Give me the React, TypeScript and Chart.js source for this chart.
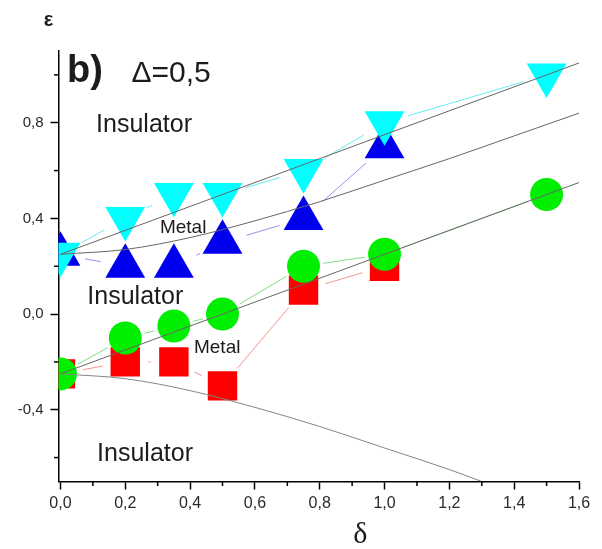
import React, { useEffect, useRef } from 'react';
import { Chart, registerables } from 'chart.js';

Chart.register(...registerables);

// ---- data ----
const cyanDelta = [0, 0.2, 0.35, 0.5, 0.75, 1.0, 1.5];
const cyanEps = [0.25, 0.4, 0.5, 0.5, 0.6, 0.8, 1.0];

const blueDelta = [0, 0.2, 0.35, 0.5, 0.75, 1.0];
const blueEps = [0.25, 0.2, 0.2, 0.3, 0.4, 0.7];

const greenDelta = [0, 0.2, 0.35, 0.5, 0.75, 1.0, 1.5];
const greenEps = [-0.25, -0.1, -0.05, 0.0, 0.2, 0.25, 0.5];

const redDelta = [0, 0.2, 0.35, 0.5, 0.75, 1.0];
const redEps = [-0.25, -0.2, -0.2, -0.3, 0.1, 0.2];

// phase boundaries
const upperLineDelta = [0, 1.6];
const upperLineEps = [0.25, 1.05];

const middleCurveDelta = [0, 0.2, 0.4, 0.6, 0.8, 1.0, 1.2, 1.4, 1.6];
const middleCurveEps = [0.25, 0.27, 0.32, 0.39, 0.47, 0.56, 0.65, 0.745, 0.84];

const lowerLineDelta = [0, 1.6];
const lowerLineEps = [-0.25, 0.55];

const lowerCurveDelta = [0, 0.2, 0.4, 0.6, 0.8, 1.0, 1.2, 1.3];
const lowerCurveEps = [-0.25, -0.27, -0.32, -0.39, -0.47, -0.56, -0.65, -0.7];

// ticks
const xMajorTicks = [0, 0.2, 0.4, 0.6, 0.8, 1.0, 1.2, 1.4, 1.6];
const xMinorTicks = [0.1, 0.3, 0.5, 0.7, 0.9, 1.1, 1.3, 1.5];
const yMajorTicks = [-0.4, 0.0, 0.4, 0.8];
const yMinorTicks = [-0.6, -0.2, 0.2, 0.6, 1.0];

// region annotations (text + anchor in data coordinates)
const regionTexts = ['Insulator', 'Metal', 'Insulator', 'Metal', 'Insulator'];
const regionDelta = [0.110, 0.307, 0.083, 0.412, 0.113];
const regionEps = [0.762, 0.339, 0.044, -0.163, -0.615];
const regionSizes = [25, 19, 25, 19, 25];

const SANS = '"Liberation Sans", Arial, Helvetica, sans-serif';
const SERIF = '"Liberation Serif", "Times New Roman", serif';

const zip = (xs: number[], ys: number[]) => xs.map((x, i) => ({ x, y: ys[i] }));
const fmt = (v: number) => v.toFixed(1).replace('.', ',');

const connectPlugin = {
  id: 'connectGaps',
  beforeDatasetsDraw(chart: any) {
    const ctx = chart.ctx;
    const a = chart.chartArea;
    ctx.save();
    ctx.beginPath();
    ctx.rect(a.left, a.top, a.right - a.left, a.bottom - a.top);
    ctx.clip();
    chart.data.datasets.forEach((ds: any, i: number) => {
      if (!ds.connectColor) return;
      const pts = chart.getDatasetMeta(i).data;
      ctx.strokeStyle = ds.connectColor;
      ctx.lineWidth = 1;
      for (let k = 0; k < pts.length - 1; k++) {
        const p = pts[k];
        const q = pts[k + 1];
        const dx = q.x - p.x;
        const dy = q.y - p.y;
        const L = Math.hypot(dx, dy);
        const g = ds.connectGap;
        if (L <= 2 * g) continue;
        const ux = dx / L;
        const uy = dy / L;
        ctx.beginPath();
        ctx.moveTo(p.x + ux * g, p.y + uy * g);
        ctx.lineTo(q.x - ux * g, q.y - uy * g);
        ctx.stroke();
      }
    });
    ctx.restore();
  },
};

const decorPlugin = {
  id: 'decor',
  afterDraw(chart: any) {
    const ctx = chart.ctx;
    const xs = chart.scales.x;
    const ys = chart.scales.y;
    const a = chart.chartArea;
    ctx.save();
    // minor ticks
    ctx.strokeStyle = '#000';
    ctx.lineWidth = 1.5;
    xMinorTicks.forEach((v) => {
      const px = xs.getPixelForValue(v);
      ctx.beginPath();
      ctx.moveTo(px, a.bottom);
      ctx.lineTo(px, a.bottom + 4.5);
      ctx.stroke();
    });
    yMinorTicks.forEach((v) => {
      const py = ys.getPixelForValue(v);
      ctx.beginPath();
      ctx.moveTo(a.left, py);
      ctx.lineTo(a.left - 4.5, py);
      ctx.stroke();
    });
    // region labels
    ctx.fillStyle = '#1c1c1c';
    ctx.textAlign = 'left';
    ctx.textBaseline = 'alphabetic';
    regionTexts.forEach((t, i) => {
      ctx.font = `${regionSizes[i]}px ${SANS}`;
      ctx.fillText(t, xs.getPixelForValue(regionDelta[i]), ys.getPixelForValue(regionEps[i]));
    });
    // panel label
    ctx.font = `bold 38px ${SANS}`;
    ctx.fillText('b)', xs.getPixelForValue(0.02), ys.getPixelForValue(0.971));
    ctx.font = `30px ${SANS}`;
    ctx.fillText('\u0394=0,5', xs.getPixelForValue(0.219), ys.getPixelForValue(0.971));
    // axis titles
    ctx.textAlign = 'center';
    ctx.font = `bold 20px ${SANS}`;
    ctx.fillText('\u03b5', a.left - 10, a.top - 25);
    ctx.font = `30px ${SERIF}`;
    ctx.fillText('\u03b4', xs.getPixelForValue(0.925), a.bottom + 61);
    ctx.restore();
  },
};

export default function App() {
  const ref = useRef<HTMLCanvasElement | null>(null);

  useEffect(() => {
    document.body.style.margin = '0';
    document.body.style.overflow = 'hidden';
    const canvas = ref.current;
    if (!canvas) return;

    const markerBase = { showLine: false, pointBorderWidth: 0, borderWidth: 0 };
    const boundary = {
      showLine: true,
      pointRadius: 0,
      borderColor: '#666666',
      borderWidth: 1,
      backgroundColor: 'transparent',
      fill: false,
      order: 0,
    };

    const chart = new Chart(canvas, {
      type: 'scatter',
      data: {
        datasets: [
          { ...boundary, label: 'upper', data: zip(upperLineDelta, upperLineEps) },
          {
            ...boundary,
            label: 'middle',
            data: zip(middleCurveDelta, middleCurveEps),
            cubicInterpolationMode: 'monotone',
          },
          { ...boundary, label: 'lowerLine', data: zip(lowerLineDelta, lowerLineEps) },
          {
            ...boundary,
            label: 'lowerCurve',
            data: zip(lowerCurveDelta, lowerCurveEps),
            cubicInterpolationMode: 'monotone',
            borderColor: '#858585',
          },
          {
            ...markerBase,
            label: 'cyan',
            data: zip(cyanDelta, cyanEps),
            pointStyle: 'triangle',
            rotation: 180,
            pointRotation: 180,
            pointRadius: 23,
            pointBackgroundColor: '#00ffff',
            backgroundColor: '#00ffff',
            borderColor: '#00ffff',
            order: 1,
            connectColor: 'rgba(0,225,235,0.6)',
            connectGap: 24,
          },
          {
            ...markerBase,
            label: 'blue',
            data: zip(blueDelta, blueEps),
            pointStyle: 'triangle',
            pointRadius: 23,
            pointBackgroundColor: '#0000ee',
            backgroundColor: '#0000ee',
            borderColor: '#0000ee',
            order: 2,
            connectColor: 'rgba(40,40,230,0.5)',
            connectGap: 25,
          },
          {
            ...markerBase,
            label: 'green',
            data: zip(greenDelta, greenEps),
            pointStyle: 'circle',
            pointRadius: 16.5,
            pointBackgroundColor: '#00ee00',
            backgroundColor: '#00ee00',
            borderColor: '#00ee00',
            order: 3,
            connectColor: 'rgba(0,190,0,0.5)',
            connectGap: 20,
          },
          {
            ...markerBase,
            label: 'red',
            data: zip(redDelta, redEps),
            pointStyle: 'rect',
            pointRadius: 20.8,
            pointBackgroundColor: '#ff0000',
            backgroundColor: '#ff0000',
            borderColor: '#ff0000',
            order: 4,
            connectColor: 'rgba(240,40,40,0.5)',
            connectGap: 23,
          },
        ] as any,
      },
      options: {
        responsive: false,
        devicePixelRatio: 1,
        animation: false,
        events: [],
        layout: { padding: { top: 51, right: 12, left: 0, bottom: 0 } },
        plugins: {
          legend: { display: false },
          tooltip: { enabled: false },
        },
        scales: {
          x: {
            type: 'linear',
            min: -0.006,
            max: 1.6,
            afterBuildTicks: (s: any) => {
              s.ticks = xMajorTicks.map((v) => ({ value: v }));
            },
            afterFit: (s: any) => {
              s.height = 67.5;
            },
            ticks: {
              autoSkip: false,
              maxRotation: 0,
              padding: 4,
              color: '#2a2a2a',
              font: { size: 16, family: SANS },
              callback: (v: any) => fmt(Number(v)),
            },
            grid: {
              drawOnChartArea: false,
              drawTicks: true,
              tickLength: 8,
              tickColor: '#000',
              tickWidth: 1.5,
            },
            border: { display: true, color: '#000', width: 1.5 },
          },
          y: {
            type: 'linear',
            min: -0.7,
            max: 1.1,
            afterBuildTicks: (s: any) => {
              s.ticks = yMajorTicks.map((v) => ({ value: v }));
            },
            afterFit: (s: any) => {
              s.width = 58.5;
            },
            ticks: {
              autoSkip: false,
              padding: 7,
              color: '#2a2a2a',
              font: { size: 15, family: SANS },
              callback: (v: any) => fmt(Number(v)),
            },
            grid: {
              drawOnChartArea: false,
              drawTicks: true,
              tickLength: 8,
              tickColor: '#000',
              tickWidth: 1.5,
            },
            border: { display: true, color: '#000', width: 1.5 },
          },
        },
      } as any,
      plugins: [connectPlugin, decorPlugin],
    });

    return () => chart.destroy();
  }, []);

  return (
    <div style={{ width: 602, height: 549, position: 'relative', background: '#fff' }}>
      <canvas ref={ref} width={602} height={549} style={{ display: 'block' }} />
    </div>
  );
}
